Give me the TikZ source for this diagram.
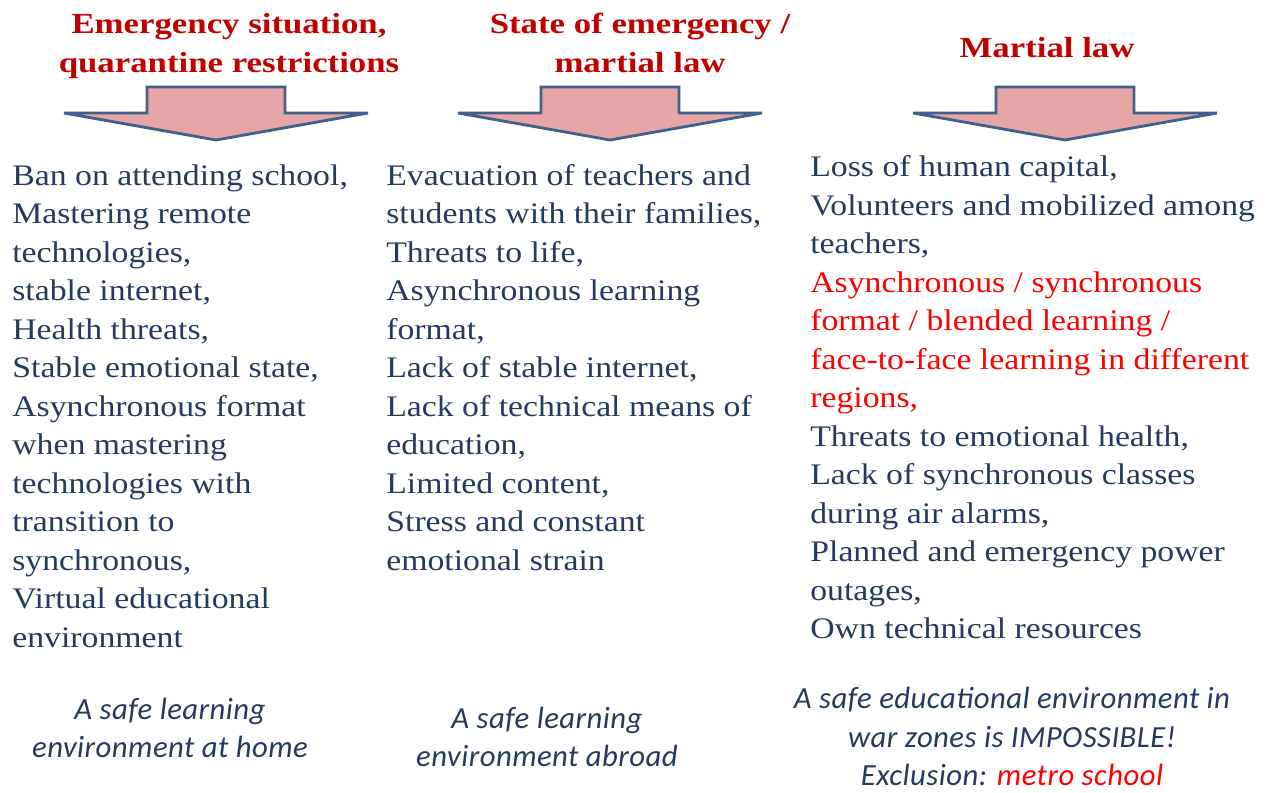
\documentclass[tikz,border=0pt]{standalone}
\usepackage{fontspec}
\newfontfamily\bodyfont[FakeStretch=1.13]{Liberation Serif}
\newfontfamily\headfont[FakeStretch=1.2]{Liberation Serif}
\newfontfamily\notefont[LetterSpace=1.5]{Carlito}

\definecolor{textnavy}{HTML}{243A5E}
\definecolor{headred}{HTML}{C00000}
\definecolor{alertred}{HTML}{FF0000}
\definecolor{arrowfill}{HTML}{E6A6A6}
\definecolor{arrowline}{HTML}{41608C}

\tikzset{
	headtext/.style={anchor=base, inner sep=0pt, text=headred, font=\headfont\bfseries\fontsize{16.5}{20}\selectfont},
	itemtext/.style={anchor=base west, inner sep=0pt, text=textnavy, font=\bodyfont\fontsize{17}{21.8}\selectfont},
	notetext/.style={anchor=base, inner sep=0pt, text=textnavy, font=\notefont\itshape\fontsize{17.5}{21.5}\selectfont},
	downarrow/.style={draw=arrowline, fill=arrowfill, line width=1.6pt, line join=miter},
}

\begin{document}
\begin{tikzpicture}[x=0.02cm, y=-0.02cm]
		\useasboundingbox (0,0) rectangle (1270,792);

		% headings
		\node[headtext] (h1a) at (229,33) {Emergency situation,};
		\node[headtext] (h1b) at (229,72) {quarantine restrictions};
		\node[headtext] (h2a) at (640,33) {State of emergency /};
		\node[headtext] (h2b) at (640,72) {martial law};
		\node[headtext] (h3) at (1047,57) {Martial law};

		% block arrows under the headings
		\foreach \c in {216,610,1065}
			\draw[downarrow] (\c-69,87) -- (\c+69,87) -- (\c+69,113) -- (\c+152,113)
				-- (\c,140) -- (\c-152,113) -- (\c-69,113) -- cycle;

		% first column
		\foreach \t [count=\i] in {{Ban on attending school,}, {Mastering remote},
				{technologies,}, {stable internet,}, {Health threats,},
				{Stable emotional state,}, {Asynchronous format}, {when mastering},
				{technologies with}, {transition to}, {synchronous,},
				{Virtual educational}, {environment}}
			\node[itemtext] (a\i) at (12,146.5+38.5*\i) {\t};

		% second column
		\foreach \t [count=\i] in {{Evacuation of teachers and},
				{students with their families,}, {Threats to life,},
				{Asynchronous learning}, {format,}, {Lack of stable internet,},
				{Lack of technical means of}, {education,}, {Limited content,},
				{Stress and constant}, {emotional strain}}
			\node[itemtext] (b\i) at (386,146.5+38.5*\i) {\t};

		% third column
		\foreach \t [count=\i] in {{Loss of human capital,},
				{Volunteers and mobilized among}, {teachers,},
				{\color{alertred}Asynchronous / synchronous},
				{\color{alertred}format / blended learning /},
				{\color{alertred}face-to-face learning in different},
				{\color{alertred}regions,},
				{Threats to emotional health,}, {Lack of synchronous classes},
				{during air alarms,}, {Planned and emergency power},
				{outages,}, {Own technical resources}}
			\node[itemtext] (c\i) at (810,138+38.5*\i) {\t};

		% notes at the bottom
		\node[notetext] (n1a) at (170,719) {A safe learning};
		\node[notetext] (n1b) at (170,757) {environment at home};
		\node[notetext] (n2a) at (547,728) {A safe learning};
		\node[notetext] (n2b) at (547,766) {environment abroad};
		\node[notetext] (n3a) at (1012,708) {A safe educational environment in};
		\node[notetext] (n3b) at (1012,747) {war zones is IMPOSSIBLE!};
		\node[notetext] (n3c) at (1012,785) {Exclusion: {\color{alertred}metro school}};
	\end{tikzpicture}
\end{document}
